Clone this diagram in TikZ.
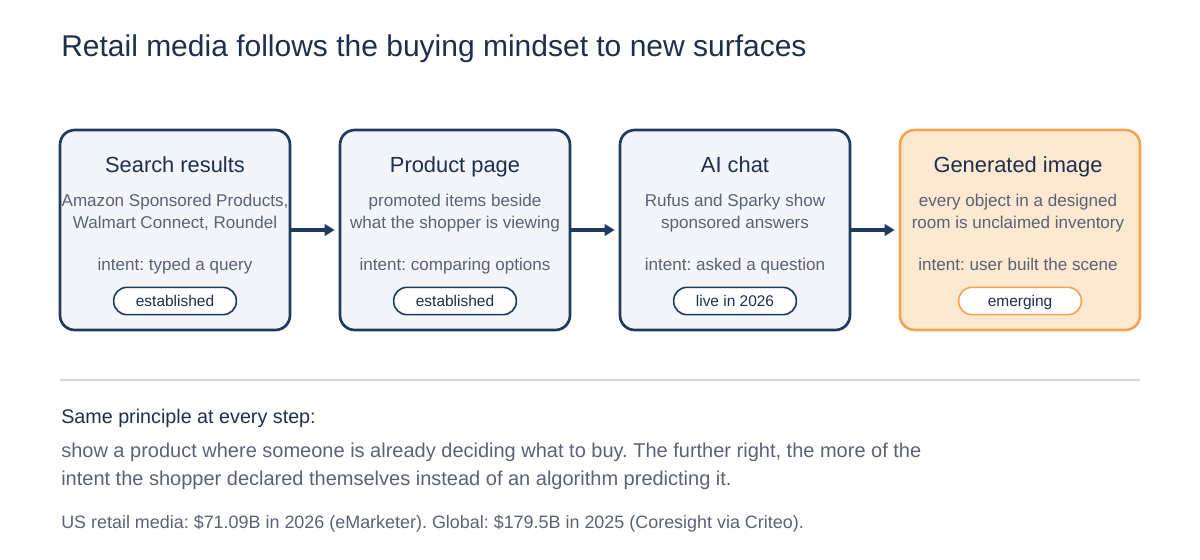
\documentclass[tikz,border=0pt]{standalone}
\usepackage{fontspec}
\setmainfont{Liberation Sans}
\frenchspacing
\usetikzlibrary{arrows.meta}
\definecolor{navy}{HTML}{1F3A5F}
\definecolor{headc}{HTML}{1E2F4D}
\definecolor{greyt}{HTML}{5A6274}
\definecolor{boxfill}{HTML}{F2F6FA}
\definecolor{orab}{HTML}{F2A551}
\definecolor{oraf}{HTML}{FDE8D1}
\definecolor{rulec}{HTML}{D4D7DD}
\tikzset{
  stage/.style={draw=navy, line width=2pt, fill=boxfill, rounded corners=11pt, minimum width=172.5pt, minimum height=150pt, inner sep=0pt},
  stagehot/.style={stage, draw=orab, fill=oraf, minimum width=180pt},
  heading/.style={anchor=base, text=headc, font=\fontsize{16.4}{19}\selectfont, inner sep=0pt},
  sub/.style={anchor=base, text=greyt, font=\fontsize{12.8}{16}\selectfont, align=center, inner sep=0pt},
  pill/.style={draw=navy, line width=1.2pt, fill=white, rounded corners=10pt, minimum width=92pt, minimum height=20.5pt, inner sep=0pt},
  pillhot/.style={pill, draw=orab},
  pilltext/.style={anchor=base, text=headc, font=\fontsize{11.6}{13}\selectfont, inner sep=0pt},
  flow/.style={draw=navy, line width=2.3pt, -{Triangle[length=7.5pt,width=8.5pt]}, shorten >=3pt}
}
\begin{document}
\begin{tikzpicture}[x=0.75pt,y=-0.75pt]
\useasboundingbox (0,0) rectangle (1200,560);
\node[anchor=base west, text=headc, font=\fontsize{22.5}{26}\selectfont, inner sep=0pt] (title) at (61,57) {Retail media follows the buying mindset to new surfaces};

\node[stage] (b1) at (175,230) {};
\node[stage] (b2) at (455,230) {};
\node[stage] (b3) at (735,230) {};
\node[stagehot] (b4) at (1020,230) {};

\node[heading] (h1) at (175,172) {Search results};
\node[sub] (s1) at (175,228) {Amazon Sponsored Products,\\Walmart Connect, Roundel};
\node[sub] (i1) at (175,270) {intent: typed a query};
\node[pill] (p1) at (175,301) {};
\node[pilltext] (t1) at (175,306) {established};

\node[heading] (h2) at (455,172) {Product page};
\node[sub] (s2) at (455,228) {promoted items beside\\what the shopper is viewing};
\node[sub] (i2) at (455,270) {intent: comparing options};
\node[pill] (p2) at (455,301) {};
\node[pilltext] (t2) at (455,306) {established};

\node[heading] (h3) at (735,172) {AI chat};
\node[sub] (s3) at (735,228) {Rufus and Sparky show\\sponsored answers};
\node[sub] (i3) at (735,270) {intent: asked a question};
\node[pill] (p3) at (735,301) {};
\node[pilltext] (t3) at (735,306) {live in 2026};

\node[heading] (h4) at (1018,172) {Generated image};
\node[sub] (s4) at (1018,228) {every object in a designed\\room is unclaimed inventory};
\node[sub] (i4) at (1018,270) {intent: user built the scene};
\node[pillhot] (p4) at (1020,301) {};
\node[pilltext] (t4) at (1020,306) {emerging};

\draw[flow] (b1.east) -- (b2.west);
\draw[flow] (b2.east) -- (b3.west);
\draw[flow] (b3.east) -- (b4.west);

\coordinate (r1) at (60,380);
\coordinate (r2) at (1140,380);
\draw[rulec, line width=1pt] (r1) -- (r2);

\node[anchor=base west, text=headc, font=\fontsize{14.8}{17}\selectfont, inner sep=0pt] (lead) at (61,423) {Same principle at every step:};
\node[anchor=base west, text=greyt, font=\fontsize{15}{21}\selectfont, align=left, inner sep=0pt] (body) at (61,485) {show a product where someone is already deciding what to buy. The further right, the more of the\\intent the shopper declared themselves instead of an algorithm predicting it.};
\node[anchor=base west, text=greyt, font=\fontsize{13.45}{15}\selectfont, inner sep=0pt] (foot) at (61,528) {US retail media: \$71.09B in 2026 (eMarketer). Global: \$179.5B in 2025 (Coresight via Criteo).};
\end{tikzpicture}
\end{document}
